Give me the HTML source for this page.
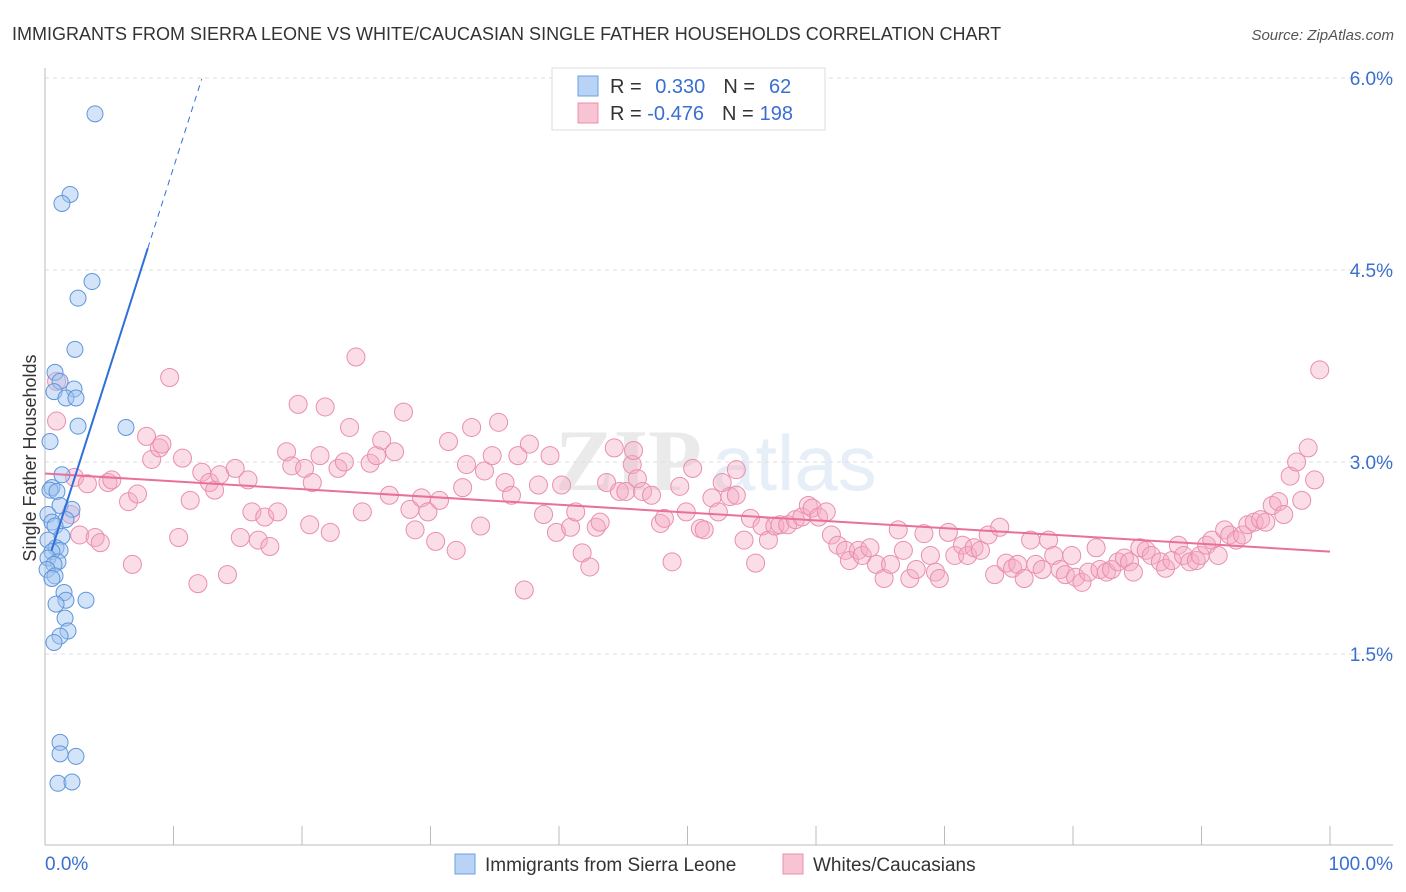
<!DOCTYPE html>
<html><head><meta charset="utf-8">
<style>
body{margin:0;background:#fff;font-family:"Liberation Sans",sans-serif;}
svg{display:block}
</style></head>
<body>
<svg id="chart" width="1406" height="892" xmlns="http://www.w3.org/2000/svg">
<text x="12" y="40" font-size="18" fill="#333">IMMIGRANTS FROM SIERRA LEONE VS WHITE/CAUCASIAN SINGLE FATHER HOUSEHOLDS CORRELATION CHART</text>
<text x="1394" y="40" font-size="15" fill="#555" font-style="italic" text-anchor="end">Source: ZipAtlas.com</text>
<g opacity="0.13">
<text x="555" y="490" font-size="88" font-family="Liberation Serif" fill="#666" font-weight="bold">ZIP</text>
<text x="712" y="490" font-size="78" fill="#4a80c8">atlas</text>
</g>
<g id="grid"></g>
<g id="axes"></g>
<g id="pink"></g>
<g id="blue"></g>
<g id="lines"></g>
<text x="36" y="458" font-size="18" fill="#333" text-anchor="middle" transform="rotate(-90 36 458)">Single Father Households</text>
<g>
<rect x="552" y="68" width="273" height="62" fill="#fff" stroke="#ddd"/>
<rect x="578" y="76" width="20" height="20" fill="#b8d3f5" stroke="#6a9fe0"/>
<rect x="578" y="103" width="20" height="20" fill="#f8c4d4" stroke="#e891ad"/>
<text x="610" y="93" font-size="20" fill="#333">R = <tspan fill="#3a6fd0" dx="8">0.330</tspan><tspan dx="18" fill="#333">N =</tspan><tspan dx="14" fill="#3a6fd0">62</tspan></text>
<text x="610" y="120" font-size="20" fill="#333">R = <tspan fill="#3a6fd0">-0.476</tspan><tspan dx="18" fill="#333">N =</tspan><tspan dx="6" fill="#3a6fd0">198</tspan></text>
</g>
<g>
<rect x="455" y="854" width="20" height="20" fill="#b8d3f5" stroke="#6a9fe0"/>
<text x="485" y="871" font-size="19" fill="#333">Immigrants from Sierra Leone</text>
<rect x="783" y="854" width="20" height="20" fill="#f8c4d4" stroke="#e891ad"/>
<text x="813" y="871" font-size="19" fill="#333">Whites/Caucasians</text>
</g>
</svg>
<script>
const yTicks=[1.5,3.0,4.5,6.0];
const yTickLabels=["1.5%","3.0%","4.5%","6.0%"];
const xTicks=[0,10,20,30,40,50,60,70,80,90,100];
const xEndLabels=["0.0%","100.0%"];
const blueX=[3.89,1.95,1.32,3.66,2.57,2.33,0.78,1.17,2.26,0.70,1.63,2.41,2.57,6.30,0.39,1.32,0.54,0.39,0.93,1.17,2.10,0.23,1.63,0.54,0.78,1.32,0.23,0.86,1.17,0.54,0.23,1.01,0.70,0.16,0.78,0.54,1.48,3.19,1.63,0.86,1.56,1.79,1.17,0.70,1.17,1.17,2.41,1.01,2.10];
const blueY=[5.72,5.09,5.02,4.41,4.28,3.88,3.70,3.63,3.57,3.55,3.50,3.50,3.28,3.27,3.16,2.90,2.80,2.78,2.77,2.66,2.63,2.59,2.55,2.53,2.50,2.42,2.39,2.33,2.31,2.30,2.25,2.22,2.20,2.16,2.11,2.09,1.98,1.92,1.92,1.89,1.78,1.68,1.64,1.59,0.81,0.72,0.70,0.49,0.50];
const pinkX=[0.9,0.9,2.3,2.0,2.7,3.3,3.9,4.3,4.9,5.2,6.5,6.8,7.2,7.9,8.3,8.9,9.1,9.7,10.4,10.7,11.3,11.9,12.2,12.8,13.2,13.6,14.2,14.8,15.2,15.8,16.1,16.6,17.1,17.5,18.1,18.8,19.2,19.7,20.2,20.6,20.8,21.4,21.8,22.2,22.8,23.3,23.7,24.2,24.7,25.3,25.8,26.2,26.8,27.2,27.9,28.4,28.8,29.3,29.8,30.4,30.7,31.4,32.0,32.5,32.8,33.2,33.9,34.2,34.8,35.3,35.8,36.3,36.8,37.3,37.7,38.4,38.8,39.3,39.8,40.2,40.9,41.3,41.8,42.4,42.9,43.2,43.7,44.3,44.7,45.2,45.7,45.8,46.1,46.5,47.2,47.9,48.2,48.8,49.4,49.9,50.4,51.0,51.3,51.9,52.4,52.7,53.3,53.8,53.8,54.4,54.9,55.3,55.8,56.3,56.8,57.2,57.8,58.4,58.9,59.4,59.7,60.2,60.8,61.2,61.7,62.3,62.6,63.3,63.6,64.2,64.7,65.3,65.8,66.4,66.8,67.3,67.8,68.4,68.9,69.3,69.6,70.3,70.8,71.4,71.8,72.3,72.8,73.4,73.9,74.3,74.8,75.3,75.7,76.2,76.7,77.1,77.6,78.1,78.5,79.0,79.4,79.9,80.2,80.7,81.2,81.8,82.1,82.6,83.0,83.5,84.0,84.4,84.7,85.2,85.7,86.1,86.8,87.2,87.7,88.2,88.6,89.1,89.6,89.9,90.4,90.8,91.3,91.8,92.2,92.7,93.2,93.6,94.1,94.6,95.0,95.5,96.0,96.4,96.9,97.4,97.8,98.3,98.8,99.2];
const pinkY=[3.63,3.32,2.88,2.59,2.43,2.83,2.41,2.37,2.84,2.86,2.69,2.20,2.75,3.20,3.02,3.11,3.14,3.66,2.41,3.03,2.70,2.05,2.92,2.84,2.78,2.90,2.12,2.95,2.41,2.86,2.61,2.39,2.57,2.34,2.61,3.08,2.97,3.45,2.95,2.51,2.84,3.05,3.43,2.45,2.95,3.00,3.27,3.82,2.61,2.99,3.05,3.17,2.74,3.08,3.39,2.63,2.47,2.72,2.61,2.38,2.70,3.16,2.31,2.80,2.98,3.27,2.50,2.93,3.05,3.31,2.84,2.74,3.05,2.00,3.14,2.82,2.59,3.05,2.45,2.82,2.49,2.61,2.29,2.18,2.49,2.53,2.84,3.11,2.77,2.77,2.98,3.09,2.87,2.77,2.74,2.52,2.56,2.22,2.81,2.61,2.95,2.48,2.47,2.72,2.61,2.84,2.73,2.74,2.94,2.39,2.56,2.21,2.50,2.39,2.50,2.51,2.51,2.55,2.57,2.66,2.64,2.57,2.61,2.43,2.35,2.31,2.23,2.31,2.27,2.33,2.20,2.09,2.20,2.47,2.31,2.09,2.16,2.44,2.27,2.14,2.09,2.45,2.27,2.35,2.27,2.33,2.31,2.43,2.12,2.49,2.21,2.17,2.20,2.09,2.39,2.20,2.16,2.39,2.27,2.16,2.12,2.27,2.10,2.06,2.14,2.33,2.16,2.14,2.16,2.22,2.25,2.22,2.14,2.33,2.31,2.27,2.22,2.17,2.23,2.35,2.27,2.22,2.23,2.27,2.35,2.39,2.27,2.47,2.43,2.39,2.43,2.51,2.53,2.55,2.53,2.66,2.69,2.59,2.89,3.00,2.70,3.11,2.86,3.72];
const blueTrend=[2.15,0.315]; // intercept, slope
const blueSolidEnd=8.0, blueDashEnd=12.2;
const pinkTrend=[2.91,-0.0061];

const NS="http://www.w3.org/2000/svg";
const X0=45,X1=1330,Y0=846,PXPER=128;
const sx=v=>X0+v/100*(X1-X0);
const sy=v=>Y0-v*PXPER;
function mk(tag,attrs,parent){const e=document.createElementNS(NS,tag);for(const k in attrs)e.setAttribute(k,attrs[k]);parent.appendChild(e);return e;}
const grid=document.getElementById('grid'),axes=document.getElementById('axes');
yTicks.forEach((t,i)=>{
  const l=mk('line',{x1:X0,x2:1393,y1:sy(t),y2:sy(t),stroke:'#ddd','stroke-dasharray':'4,4'},grid);
  
  
  const tx=mk('text',{x:1393,y:sy(t)+7,'font-size':19,fill:'#3a6fd0','text-anchor':'end'},axes);
  tx.textContent=yTickLabels[i];
  
  
});
const ax=mk('line',{x1:X0,x2:1393,y1:845,y2:845,stroke:'#bbb'},axes);


const ay=mk('line',{x1:X0,x2:X0,y1:68,y2:845,stroke:'#bbb'},axes);


xTicks.forEach(t=>{
  const l=mk('line',{x1:sx(t),x2:sx(t),y1:826,y2:845,stroke:'#bbb'},axes);
  
  
});
const l0=mk('text',{x:45,y:870,'font-size':19,fill:'#3a6fd0'},axes);l0.textContent=xEndLabels[0];


const l1=mk('text',{x:1393,y:870,'font-size':19,fill:'#3a6fd0','text-anchor':'end'},axes);l1.textContent=xEndLabels[1];


const pg=document.getElementById('pink');
pinkX.forEach((x,i)=>{
  const c=mk('circle',{cx:sx(x),cy:sy(pinkY[i]),r:9,fill:'rgba(244,170,194,0.4)',stroke:'#e98fae','stroke-width':1},pg);
  
  
});
const bg=document.getElementById('blue');
blueX.forEach((x,i)=>{
  const c=mk('circle',{cx:sx(x),cy:sy(blueY[i]),r:8,fill:'rgba(160,196,240,0.45)',stroke:'#5f95dc','stroke-width':1},bg);
  
  
});
const lg=document.getElementById('lines');
const bt=x=>blueTrend[0]+blueTrend[1]*x, pt=x=>pinkTrend[0]+pinkTrend[1]*x;
const pl=mk('line',{x1:sx(0),y1:sy(pt(0)),x2:sx(100),y2:sy(pt(100)),stroke:'#e8709a','stroke-width':2},lg);


const bl=mk('line',{x1:sx(0.5),y1:sy(bt(0.5)),x2:sx(blueSolidEnd),y2:sy(bt(blueSolidEnd)),stroke:'#2f6fd8','stroke-width':2},lg);


const bd=mk('line',{x1:sx(blueSolidEnd),y1:sy(bt(blueSolidEnd)),x2:sx(blueDashEnd),y2:sy(bt(blueDashEnd)),stroke:'#2f6fd8','stroke-width':1,'stroke-dasharray':'6,5'},lg);


</script>
</body></html>
